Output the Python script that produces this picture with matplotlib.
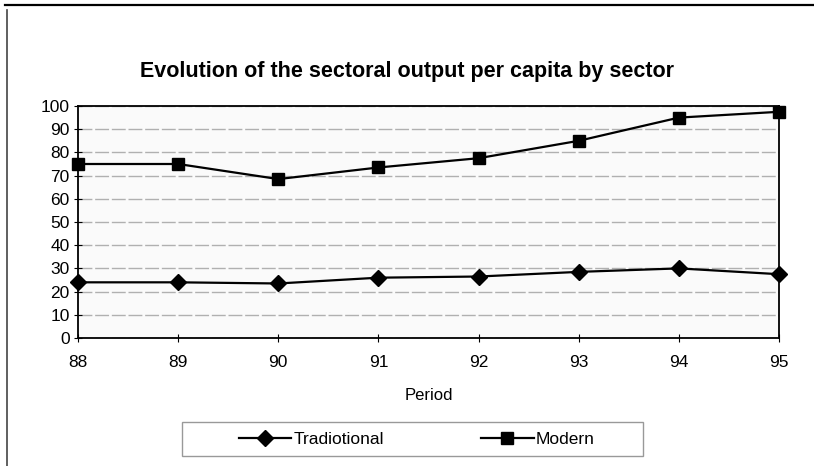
import matplotlib
matplotlib.use("Agg")
import matplotlib.pyplot as plt
from matplotlib.lines import Line2D
from matplotlib.patches import Rectangle

periods = [88, 89, 90, 91, 92, 93, 94, 95]
traditional = [24, 24, 23.5, 26, 26.5, 28.5, 30, 27.5]
modern = [75, 75, 68.5, 73.5, 77.5, 85, 95, 97.5]
yticks = [0, 10, 20, 30, 40, 50, 60, 70, 80, 90, 100]

plt.rcParams['font.family'] = ['Liberation Sans', 'DejaVu Sans']

W, H = 814, 466
fig = plt.figure(figsize=(W/100, H/100), dpi=100)
ax = fig.add_axes([78/W, 1-338/H, (779-78)/W, (338-106)/H])

ax.plot(periods, traditional, color='black', lw=1.6, marker='D', markersize=8.5,
        label='Tradiotional', clip_on=False, zorder=5)
ax.plot(periods, modern, color='black', lw=1.6, marker='s', markersize=8.5,
        label='Modern', clip_on=False, zorder=5)

ax.set_xlim(88, 95)
ax.set_ylim(0, 100)
ax.set_xticks(periods)
ax.set_xticklabels([str(p) for p in periods], fontsize=12.5)
ax.set_yticks(yticks)
ax.set_yticklabels([str(v) for v in yticks], fontsize=12.5)
ax.tick_params(axis='x', direction='inout', length=6, width=0.8, pad=9)
ax.tick_params(axis='y', direction='inout', length=6, width=0.8, pad=3)
ax.grid(axis='y', color='#b0b0b0', lw=1.0, ls=(0, (10, 2)))
ax.set_axisbelow(True)
for s in ax.spines.values():
    s.set_linewidth(1.3)
    s.set_color('black')
ax.set_facecolor('#fafafa')

ax.set_xlabel('Period', fontsize=12)
ax.xaxis.set_label_coords(0.5, -(396-338)/232)
ax.xaxis.label.set_va('center')

fig.text(0.5, 1-71/H, 'Evolution of the sectoral output per capita by sector',
         ha='center', va='center', fontsize=15.5, fontweight='bold')

# legend box
fig.add_artist(Rectangle((182/W, 1-456/H), (643-182)/W, (456-422)/H, transform=fig.transFigure,
                         fill=False, edgecolor='#999999', lw=1.0))
leg = fig.legend(handles=ax.get_lines(), loc='center', bbox_to_anchor=(417/W, 1-439/H),
                 ncol=2, frameon=False, fontsize=12.5, handlelength=3.0, handletextpad=0.15,
                 columnspacing=5.6, borderpad=0.2)

# scanned page border lines
fig.add_artist(Line2D([5/W, 1], [1-5/H, 1-5/H], color='black', lw=1.6, transform=fig.transFigure))
fig.add_artist(Line2D([7/W, 7/W], [0, 1-10/H], color='#444444', lw=1.2, transform=fig.transFigure))

fig.savefig('out.png', dpi=100, facecolor='white')
